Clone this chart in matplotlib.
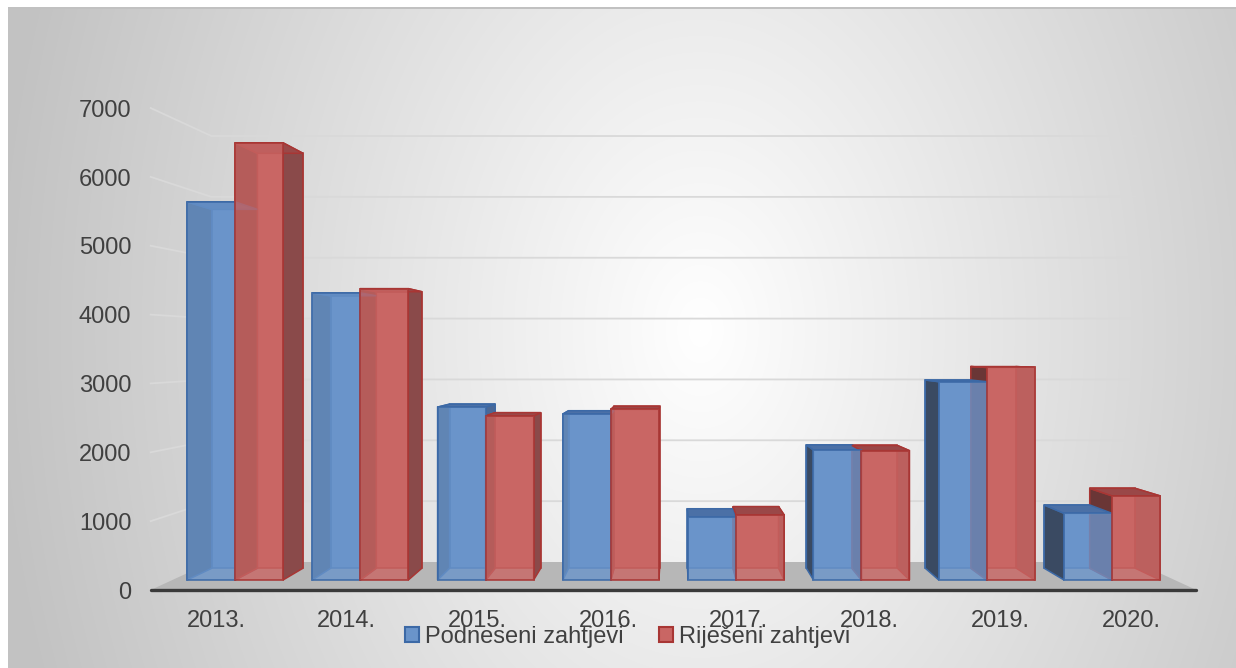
import numpy as np
import matplotlib
matplotlib.use("Agg")
import matplotlib.pyplot as plt
from matplotlib.patches import Polygon, Patch

# ---------------- data ----------------
years = ["2013.", "2014.", "2015.", "2016.", "2017.", "2018.", "2019.", "2020."]
podneseni = [5730, 4350, 2620, 2515, 950, 1970, 3005, 1010]
rijeseni = [6625, 4415, 2485, 2585, 985, 1960, 3220, 1275]
series_names = ["Podneseni zahtjevi", "Riješeni zahtjevi"]
y_ticks = [0, 1000, 2000, 3000, 4000, 5000, 6000, 7000]

# ---------------- style ----------------
FONT = "Liberation Sans"
TXT = "#404040"
BLUE = dict(front="#6a94ca", back="#6a94ca", left="#3a4a62", right="#4a6896",
            top="#4b70a6", edge="#3c69a6")
RED = dict(front="#c96664", back="#c96664", left="#6a3636", right="#8a4a4a",
           top="#9a4848", edge="#a83634")

# perspective parameters (data space: x = category, y = value)
VPX, VPY = 3.5, 3500.0
S_LABEL, S_FRONT, S_BACK, S_WALL = 1.0432, 1.0, 0.949, 0.922
FLOOR_X = (-0.5, 7.5)
BAR_W = 0.383


def proj(x, v, s):
    return VPX + s * (x - VPX), VPY + s * (v - VPY)


W, H = 1236, 668
fig = plt.figure(figsize=(W / 100, H / 100), dpi=100)

# ---------------- background gradient ----------------
bg = fig.add_axes([0, 0, 1, 1])
bg.set_axis_off()
X, Y = np.meshgrid(np.arange(W), np.arange(H))
d = np.sqrt(((X - 700) / 640.0) ** 2 + ((Y - 330) / 900.0) ** 2)
g = np.clip(255 - 55 * d, 194, 255) / 255.0
img = np.dstack([g, g, g])
img[:7, :] = 1.0
img[:, :8] = 1.0
img[7:9, 8:] = 0.76
bg.imshow(img, extent=(0, W, H, 0), aspect="auto", interpolation="bilinear")
bg.set_xlim(0, W)
bg.set_ylim(H, 0)

# ---------------- main axes ----------------
ax = fig.add_axes([0, 0, 1, 1])
ax.set_axis_off()
ax.patch.set_alpha(0)
ax.set_xlim(-1.8755, 7.989)
ax.set_ylim(-1333, 8788)

# floor
floor = [proj(FLOOR_X[0], 0, S_LABEL), proj(FLOOR_X[1], 0, S_LABEL),
         proj(FLOOR_X[1], 0, S_WALL), proj(FLOOR_X[0], 0, S_WALL)]
ax.add_patch(Polygon(floor, closed=True, facecolor="#b7b7b7", edgecolor="none", zorder=1))

# gridlines (back wall + left wall)
for v in y_ticks[1:]:
    p0 = proj(FLOOR_X[0], v, S_LABEL)
    p1 = proj(FLOOR_X[0], v, S_WALL)
    p2 = proj(FLOOR_X[1], v, S_WALL)
    ax.plot([p0[0], p1[0], p2[0]], [p0[1], p1[1], p2[1]], color="#d9d9d9",
            lw=1.3, zorder=1, solid_joinstyle="miter")

# front axis line
a0 = proj(FLOOR_X[0], 0, S_LABEL)
a1 = proj(FLOOR_X[1], 0, S_LABEL)
ax.plot([a0[0], a1[0]], [a0[1], a1[1]], color="#3a3a3a", lw=2.4, zorder=5,
        solid_capstyle="round")

# y tick labels
for v in y_ticks:
    p = proj(FLOOR_X[0], v, S_LABEL)
    ax.annotate(str(v), xy=p, xytext=(-14, -6.3), textcoords="offset points",
                ha="right", va="baseline", fontsize=17, color=TXT, family=FONT)

# category labels
for i, lab in enumerate(years):
    p = proj(i, 0, S_LABEL)
    ax.annotate(lab, xy=p, xytext=(0, -26.6), textcoords="offset points",
                ha="center", va="baseline", fontsize=17, color=TXT, family=FONT)


# ---------------- 3D boxes ----------------
def box_faces(x0, x1, h, col):
    F = lambda x, v: proj(x, v, S_FRONT)
    B = lambda x, v: proj(x, v, S_BACK)
    lw = 1.1
    # back face
    ax.add_patch(Polygon([B(x0, 0), B(x1, 0), B(x1, h), B(x0, h)], closed=True,
                         facecolor=col["back"], edgecolor=col["edge"], lw=lw, zorder=2))
    # sides and top
    ax.add_patch(Polygon([F(x0, 0), B(x0, 0), B(x0, h), F(x0, h)], closed=True,
                         facecolor=col["left"], edgecolor=col["edge"], lw=lw, zorder=3))
    ax.add_patch(Polygon([F(x1, 0), B(x1, 0), B(x1, h), F(x1, h)], closed=True,
                         facecolor=col["right"], edgecolor=col["edge"], lw=lw, zorder=3))
    ax.add_patch(Polygon([F(x0, h), F(x1, h), B(x1, h), B(x0, h)], closed=True,
                         facecolor=col["top"], edgecolor=col["edge"], lw=lw, zorder=3.5))


xs = np.arange(len(years))
for i in xs:
    box_faces(i - BAR_W, i, podneseni[i], BLUE)
    box_faces(i, i + BAR_W, rijeseni[i], RED)

ax.bar(xs - BAR_W, podneseni, width=BAR_W, align="edge", color=BLUE["front"],
       alpha=0.8, edgecolor=BLUE["edge"], linewidth=1.4, zorder=4)
ax.bar(xs, rijeseni, width=BAR_W, align="edge", color=RED["front"],
       alpha=0.8, edgecolor=RED["edge"], linewidth=1.4, zorder=4)

# ---------------- legend ----------------
handles = [Patch(facecolor=BLUE["front"], edgecolor=BLUE["edge"], lw=1.5),
           Patch(facecolor=RED["front"], edgecolor=RED["edge"], lw=1.5)]
leg = fig.legend(handles, series_names, loc="center", bbox_to_anchor=(0.5077, 0.047),
                 ncol=2, frameon=False, prop={"family": FONT, "size": 17},
                 handlelength=0.6, handleheight=0.6, handletextpad=0.25,
                 columnspacing=1.5, borderpad=0)
for t in leg.get_texts():
    t.set_color(TXT)

fig.savefig("out.png", dpi=100)
